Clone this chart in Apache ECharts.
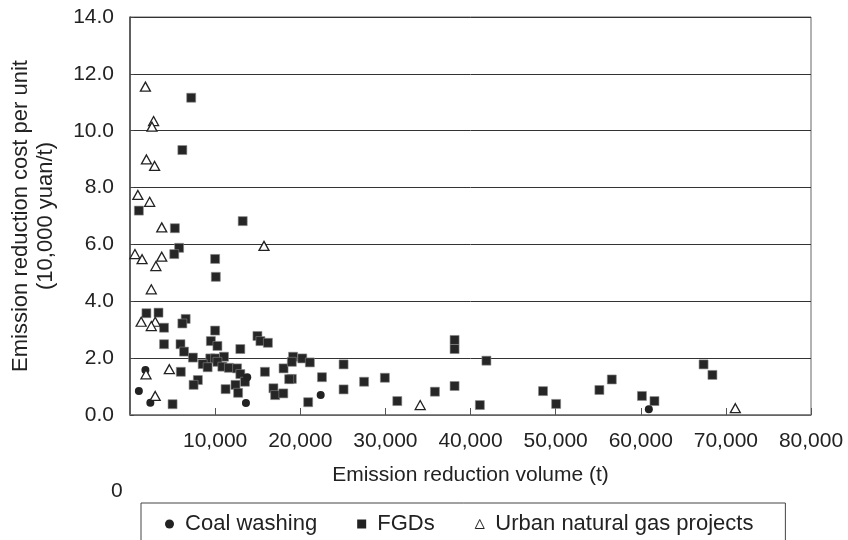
<!DOCTYPE html>
<html>
<head>
<meta charset="utf-8">
<script src="https://cdn.jsdelivr.net/npm/echarts@6/dist/echarts.min.js"></script>
<style>
  html, body { margin: 0; padding: 0; background: #fff; }
  #chart { width: 848px; height: 540px; }
</style>
</head>
<body>
<div id="chart"></div>
<script>
// Emission reduction volume (t) vs. unit cost (10,000 yuan/t), by project type
const coalWashing = [
  [1810, 1.58], [1040, 0.84], [2390, 0.43], [13770, 1.33], [13620, 0.42],
  [22400, 0.70], [60950, 0.20]
];

const fgds = [
  [7190, 11.16], [6150, 9.32], [1040, 7.19], [13240, 6.82], [5270, 6.57],
  [5770, 5.88], [5200, 5.66], [10000, 5.49], [10080, 4.86],
  [1930, 3.58], [3350, 3.60], [4000, 3.07], [6540, 3.38], [6150, 3.22],
  [10000, 2.97], [4000, 2.49], [9500, 2.60], [5930, 2.49], [10270, 2.43],
  [12960, 2.32], [6350, 2.23], [7390, 2.02], [9430, 1.99], [8540, 1.79],
  [10000, 1.99], [11040, 2.05], [9120, 1.68], [10270, 1.87], [10850, 1.70],
  [11620, 1.66], [12580, 1.64], [12960, 1.44], [13500, 1.17], [5970, 1.52],
  [7970, 1.23], [7470, 1.06], [11230, 0.91], [12390, 1.06], [12700, 0.78],
  [5000, 0.38],
  [14970, 2.78], [15320, 2.60], [16200, 2.54], [15850, 1.52], [18040, 1.64],
  [19160, 2.05], [19010, 1.87], [20240, 1.99], [21130, 1.85], [19010, 1.27],
  [18700, 1.26], [16850, 0.94], [17050, 0.70], [18010, 0.76], [20930, 0.45],
  [22550, 1.33], [25090, 1.78], [25090, 0.90], [27500, 1.17], [29940, 1.31],
  [31400, 0.49], [35820, 0.82], [38130, 2.64], [38130, 2.32], [38130, 1.02],
  [41870, 1.91], [41100, 0.35], [48520, 0.84], [50060, 0.39], [55140, 0.88],
  [56600, 1.25], [60140, 0.67], [61610, 0.49], [67380, 1.78], [68420, 1.41]
];

const urbanGas = [
  [1810, 11.55], [2770, 10.34], [2580, 10.14], [1930, 8.99], [2890, 8.76],
  [925, 7.74], [2310, 7.50], [3730, 6.60], [580, 5.66], [1420, 5.48],
  [3730, 5.57], [3040, 5.24], [15740, 5.95], [2500, 4.42], [1310, 3.28],
  [2960, 3.28], [2500, 3.13], [1880, 1.43], [4620, 1.61], [2960, 0.67],
  [34090, 0.35], [71110, 0.24]
];

const seriesNames = ['Coal washing', 'FGDs', 'Urban natural gas projects'];
const xTitle = 'Emission reduction volume (t)';
const yTitle = 'Emission reduction cost per unit\n(10,000 yuan/t)';

const FONT = '"Liberation Sans", Arial, Helvetica, sans-serif';
const chart = echarts.init(document.getElementById('chart'), null, { renderer: 'canvas' });

chart.setOption({
  animation: false,
  backgroundColor: '#ffffff',
  textStyle: { fontFamily: FONT, color: '#222' },
  grid: {
    left: 118, right: 37, top: 17, bottom: 125,
    show: true, borderColor: '#666', borderWidth: 1, backgroundColor: 'transparent'
  },
  legend: {
    left: 141, top: 503,
    padding: [10, 32, 10, 24],
    borderColor: '#444', borderWidth: 1,
    itemGap: 40, itemWidth: 9, itemHeight: 9,
    textStyle: { fontFamily: FONT, fontSize: 22, color: '#222' },
    formatter: name => ' ' + name,
    data: [
      { name: seriesNames[0], icon: 'circle', itemStyle: { color: '#222', borderWidth: 0 } },
      { name: seriesNames[1], icon: 'rect', itemStyle: { color: '#222', borderWidth: 0 } },
      { name: seriesNames[2], icon: 'triangle', itemStyle: { color: '#fff', borderColor: '#222', borderWidth: 1 } }
    ]
  },
  xAxis: {
    type: 'value', min: 0, max: 80000, interval: 10000,
    name: xTitle, nameLocation: 'middle', nameGap: 50,
    nameTextStyle: { fontFamily: FONT, fontSize: 21, color: '#222' },
    axisLine: { show: true, lineStyle: { color: '#777', width: 1.5 } },
    axisTick: { show: true, inside: true, length: 7, lineStyle: { color: '#555' } },
    splitLine: { show: false },
    axisLabel: {
      showMinLabel: false, margin: 16,
      fontFamily: FONT, fontSize: 21, color: '#222',
      formatter: v => v.toLocaleString('en-US')
    }
  },
  yAxis: {
    type: 'value', min: 0, max: 14, interval: 2,
    name: yTitle, nameLocation: 'middle', nameGap: 72, nameRotate: 90,
    nameTextStyle: { fontFamily: FONT, fontSize: 22, color: '#222', lineHeight: 25 },
    axisLine: { show: true, lineStyle: { color: '#444', width: 1.5 } },
    axisTick: { show: true, inside: true, length: 4, lineStyle: { color: '#444' } },
    splitLine: { show: true, lineStyle: { color: '#333', width: 1 } },
    axisLabel: {
      margin: 16, fontFamily: FONT, fontSize: 21, color: '#222',
      formatter: v => v.toFixed(1)
    }
  },
  graphic: [
    { type: 'text', left: 111, top: 481,
      style: { text: '0', font: '21px ' + FONT, fill: '#222' } }
  ],
  series: [
    {
      name: seriesNames[0], type: 'scatter', data: coalWashing,
      symbol: 'circle', symbolSize: 8,
      itemStyle: { color: '#222', opacity: 1 }, z: 3
    },
    {
      name: seriesNames[1], type: 'scatter', data: fgds,
      symbol: 'rect', symbolSize: 9,
      itemStyle: { color: '#262626', borderColor: '#888', borderWidth: 0.6, opacity: 1 }, z: 2
    },
    {
      name: seriesNames[2], type: 'scatter', data: urbanGas,
      symbol: 'triangle', symbolSize: [10, 9],
      itemStyle: { color: '#fff', borderColor: '#222', borderWidth: 1.3, opacity: 1 }, z: 4
    }
  ]
});
</script>
</body>
</html>
